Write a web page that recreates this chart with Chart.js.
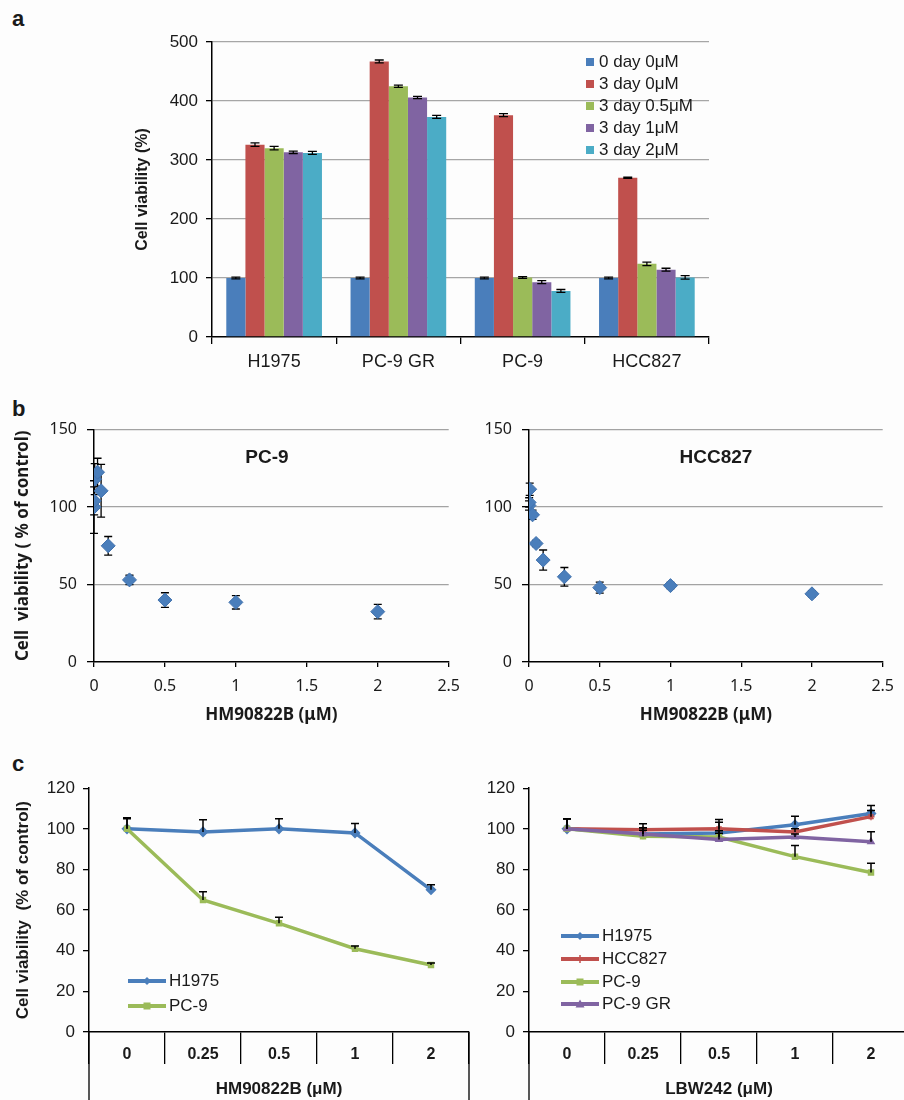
<!DOCTYPE html>
<html lang="en">
<head>
<meta charset="UTF-8">
<title>Cell viability panels</title>
<script src="https://cdn.jsdelivr.net/npm/chart.js"></script>
<style>
    body { margin: 0; background: #fdfdfd; }
    #fig { position: relative; width: 904px; height: 1100px; overflow: hidden; background: #fdfdfd;
           font-family: 'Liberation Sans', Arial, sans-serif; color: #1a1a1a; }
    .box { position: absolute; }
    .letter { position: absolute; font: bold 22px 'Liberation Sans', Arial, sans-serif; line-height: 1; }
    .inset { position: absolute; width: 140px; text-align: center; font: bold 19px 'Liberation Sans', Arial, sans-serif; line-height: 24px; }
    .legA { position: absolute; left: 586px; top: 51px; font-size: 17px; }
    .legA div { height: 22px; display: flex; align-items: center; white-space: nowrap; }
    .legA .sw { display: inline-block; width: 8px; height: 8px; margin-right: 5px; }
    .legC { position: absolute; font-size: 17px; }
    .legC div { display: flex; align-items: center; white-space: nowrap; }
    .legC svg { margin-right: 2px; }
</style>
</head>
<body>
<div id="fig">
    <div class="letter" style="left:12px; top:8px">a</div>
    <div class="letter" style="left:12px; top:398px">b</div>
    <div class="letter" style="left:12px; top:753px">c</div>

    <div class="box" style="left:120px; top:22px"><canvas id="chartA" width="600" height="360"></canvas></div>
    <div class="legA" id="legA"></div>

    <div class="box" style="left:0px; top:410px"><canvas id="chartB1" width="470" height="320"></canvas></div>
    <div class="box" style="left:435px; top:410px"><canvas id="chartB2" width="469" height="320"></canvas></div>
    <div class="inset" style="left:197px; top:445px">PC-9</div>
    <div class="inset" style="left:646px; top:445px">HCC827</div>

    <div class="box" style="left:0px; top:770px"><canvas id="chartC1" width="480" height="330"></canvas></div>
    <div class="box" style="left:440px; top:770px"><canvas id="chartC2" width="480" height="330"></canvas></div>
    <div class="legC" id="legC1" style="left:127px; top:968px"></div>
    <div class="legC" id="legC2" style="left:560px; top:925px"></div>
</div>

<script>
    const FONT = "'Liberation Sans', Arial, sans-serif";
    const FONT_K = "'Noto Sans', 'DejaVu Sans', sans-serif";
    const INK = '#1a1a1a';

    // ---- panel a : 3 day growth ----
    const cellLines = ['H1975', 'PC-9 GR', 'PC-9', 'HCC827'];
    const treatments = ['0 day 0μM', '3 day 0μM', '3 day 0.5μM', '3 day 1μM', '3 day 2μM'];
    const day0_0uM = [100, 100, 100, 100];
    const day3_0uM = [326, 467, 376, 270];
    const day3_05uM = [320, 425, 101, 124];
    const day3_1uM = [313, 406, 93, 114];
    const day3_2uM = [312, 373, 78, 101];
    const err0_0uM = [1.5, 1.5, 1.5, 1.5];
    const err3_0uM = [3, 2.5, 2.5, 1];
    const err3_05uM = [3, 2, 1.5, 3];
    const err3_1uM = [2, 2, 2.5, 2.5];
    const err3_2uM = [2.5, 2.5, 2.5, 3];
    const barColors = ['#4a7ebb', '#c0504d', '#9bbb59', '#8064a2', '#4bacc6'];

    // ---- panel b : HM90822B dose response ----
    const doseB = [0, 0.001, 0.005, 0.025, 0.05, 0.1, 0.25, 0.5, 1, 2];
    const pc9B = [100, 104, 118, 122.5, 110.5, 75, 53, 40, 38.5, 32.5];
    const pc9BErr = [17, 9, 10, 9, 17, 6, 3, 4.7, 4.3, 4.7];
    const hcc827B = [101, 103, 111.5, 95, 76.5, 65.8, 55, 48, 49.3, 44];
    const hcc827BErr = [3, 3, 4, 3, 2, 6.5, 6, 3.5, 2, 2];

    // ---- panel c : viability at 0.25-2 uM ----
    const doseC = ['0', '0.25', '0.5', '1', '2'];
    const hmH1975 = [100, 98.5, 100, 98, 70];
    const hmH1975Err = [5.5, 6, 5, 4.6, 2.5];
    const hmPC9 = [100, 65, 53.5, 41, 33];
    const hmPC9Err = [5, 4, 3, 1.3, 1];
    const lbwH1975 = [100, 97.5, 98, 102, 107.5];
    const lbwH1975Err = [5, 3, 5.3, 4.2, 4];
    const lbwHCC827 = [100, 99.5, 100, 98.5, 106];
    const lbwHCC827Err = [5, 3, 4.6, 1.5, 3];
    const lbwPC9 = [100, 96.3, 96, 86.3, 78.5];
    const lbwPC9Err = [5, 3, 3, 5.5, 4.5];
    const lbwPC9GR = [100, 97.5, 94.8, 96, 93.6];
    const lbwPC9GRErr = [5, 3, 3, 1.5, 5];

    const lineColors = { H1975: '#4a7ebb', HCC827: '#c0504d', 'PC-9': '#9bbb59', 'PC-9 GR': '#8064a2' };
    const markers = { H1975: 'rectRot', HCC827: 'star', 'PC-9': 'rect', 'PC-9 GR': 'triangle' };

    // error bars drawn from each dataset's "errors" array
    function drawErrors(chart, opts) {
        const ctx = chart.ctx;
        const y = chart.scales.y;
        const cap = opts.cap || 4;
        ctx.save();
        ctx.strokeStyle = '#000';
        ctx.lineWidth = opts.lineWidth || 1.2;
        chart.data.datasets.forEach((ds, i) => {
            if (!ds.errors) return;
            chart.getDatasetMeta(i).data.forEach((pt, j) => {
                const raw = ds.data[j];
                const v = typeof raw === 'object' ? raw.y : raw;
                const e = ds.errors[j];
                const yTop = y.getPixelForValue(v + e);
                const yBot = y.getPixelForValue(opts.plusOnly ? v : v - e);
                ctx.beginPath();
                ctx.moveTo(pt.x, yTop); ctx.lineTo(pt.x, yBot);
                ctx.moveTo(pt.x - cap, yTop); ctx.lineTo(pt.x + cap, yTop);
                if (!opts.plusOnly) { ctx.moveTo(pt.x - cap, yBot); ctx.lineTo(pt.x + cap, yBot); }
                ctx.stroke();
            });
        });
        ctx.restore();
    }
    const errorBars = {
        id: 'errorBars',
        beforeDatasetsDraw(chart, args, opts) { if (opts.behind) drawErrors(chart, opts); },
        afterDatasetsDraw(chart, args, opts) { if (!opts.behind) drawErrors(chart, opts); }
    };

    // excel style: outer axis lines run down through the label rows
    const axisDrop = {
        id: 'axisDrop',
        afterDraw(chart) {
            const { ctx, chartArea } = chart;
            ctx.save();
            ctx.strokeStyle = '#000';
            ctx.lineWidth = 1.3;
            ctx.beginPath();
            ctx.moveTo(chartArea.left, chartArea.bottom); ctx.lineTo(chartArea.left, chart.height);
            ctx.moveTo(chartArea.right, chartArea.bottom); ctx.lineTo(chartArea.right, chart.height);
            ctx.stroke();
            ctx.restore();
        }
    };

    // ---------- panel a ----------
    const seriesA = [day0_0uM, day3_0uM, day3_05uM, day3_1uM, day3_2uM];
    const errorsA = [err0_0uM, err3_0uM, err3_05uM, err3_1uM, err3_2uM];

    new Chart(document.getElementById('chartA'), {
        type: 'bar',
        data: {
            labels: cellLines,
            datasets: seriesA.map((d, i) => ({
                label: treatments[i],
                data: d,
                errors: errorsA[i],
                backgroundColor: barColors[i],
                barPercentage: 1,
                categoryPercentage: 0.77
            }))
        },
        options: {
            responsive: false,
            animation: false,
            events: [],
            layout: { padding: { top: 20, right: 11, left: 0, bottom: 0 } },
            plugins: {
                legend: { display: false },
                tooltip: { enabled: false },
                errorBars: { cap: 4.5, lineWidth: 1.3 }
            },
            scales: {
                x: {
                    grid: { display: true, drawOnChartArea: false, offset: true, tickLength: 7, color: '#000', lineWidth: 1.3 },
                    border: { color: '#000', width: 1.5 },
                    ticks: { color: INK, font: { family: FONT, size: 18 }, padding: 7 },
                    afterFit: s => { s.height = 45; }
                },
                y: {
                    min: 0, max: 500,
                    ticks: { stepSize: 100, color: INK, font: { family: FONT, size: 17 }, padding: 8 },
                    grid: {
                        color: c => (c.tick && c.tick.value === 0) ? 'rgba(0,0,0,0)' : '#a6a6a6',
                        tickColor: '#000', tickLength: 6, lineWidth: 1.3
                    },
                    border: { color: '#000', width: 1.5 },
                    title: { display: true, text: 'Cell viability (%)', color: INK,
                             font: { family: FONT, size: 16, weight: 'bold' }, padding: { top: 13, bottom: 0 } },
                    afterFit: s => { s.width = 92; }
                }
            }
        },
        plugins: [errorBars]
    });

    document.getElementById('legA').innerHTML = treatments.map((t, i) =>
        `<div><span class="sw" style="background:${barColors[i]}"></span>${t}</div>`).join('');

    // ---------- panel b ----------
    function doseChart(id, doses, vals, errs, showTitle) {
        return new Chart(document.getElementById(id), {
            type: 'scatter',
            data: {
                datasets: [{
                    data: doses.map((x, i) => ({ x: x, y: vals[i] })),
                    errors: errs,
                    pointStyle: 'rectRot',
                    pointRadius: 7,
                    pointHoverRadius: 7,
                    backgroundColor: '#4a7ebb',
                    borderColor: '#4272ad',
                    borderWidth: 1
                }]
            },
            options: {
                responsive: false,
                animation: false,
                events: [],
                layout: { padding: { top: 19, right: 12, left: 0, bottom: 0 } },
                plugins: {
                    legend: { display: false },
                    tooltip: { enabled: false },
                    errorBars: { behind: true, cap: 4, lineWidth: 1.3 }
                },
                scales: {
                    x: {
                        type: 'linear', min: 0, max: 2.5,
                        ticks: { stepSize: 0.5, color: INK, font: { family: FONT_K, size: 16 }, padding: 10,
                                 callback: v => String(Math.round(v * 10) / 10) },
                        grid: { drawOnChartArea: false, tickLength: 5, tickColor: '#000', lineWidth: 1.3 },
                        border: { color: '#000', width: 1.5 },
                        title: { display: true, text: 'HM90822B (μM)', color: INK,
                                 font: { family: FONT_K, size: 17, weight: 'bold' }, padding: { top: 0, bottom: 5 } },
                        afterFit: s => { s.height = 68; }
                    },
                    y: {
                        min: 0, max: 150,
                        ticks: { stepSize: 50, color: INK, font: { family: FONT_K, size: 16 }, padding: 10 },
                        grid: {
                            color: c => (c.tick && c.tick.value === 0) ? 'rgba(0,0,0,0)' : '#a3a3a3',
                            tickColor: '#000', tickLength: 7, lineWidth: 1.3
                        },
                        border: { color: '#000', width: 1.5 },
                        title: { display: showTitle, text: 'Cell  viability ( % of control)', color: INK,
                                 font: { family: FONT_K, size: 17, weight: 'bold' }, padding: { top: 13, bottom: 0 } },
                        afterFit: s => { s.width = 94; }
                    }
                }
            },
            plugins: [errorBars]
        });
    }
    doseChart('chartB1', doseB, pc9B, pc9BErr, true);
    doseChart('chartB2', doseB, hcc827B, hcc827BErr, false);

    // ---------- panel c ----------
    function lineChart(id, axisTitle, names, vals, errs, showTitle) {
        return new Chart(document.getElementById(id), {
            type: 'line',
            data: {
                labels: doseC,
                datasets: names.map((n, i) => ({
                    label: n,
                    data: vals[i],
                    errors: errs[i],
                    order: names.length - i,
                    borderColor: lineColors[n],
                    backgroundColor: lineColors[n],
                    borderWidth: 3.5,
                    tension: 0,
                    pointStyle: markers[n],
                    pointRadius: n === 'H1975' ? 4.5 : 3.5,
                    pointBorderWidth: 1.5
                }))
            },
            options: {
                responsive: false,
                animation: false,
                events: [],
                layout: { padding: { top: 16, right: 11, left: 0, bottom: 0 } },
                plugins: {
                    legend: { display: false },
                    tooltip: { enabled: false },
                    errorBars: { plusOnly: true, cap: 4, lineWidth: 1.5 }
                },
                scales: {
                    x: {
                        offset: true,
                        grid: { display: true, offset: true, drawOnChartArea: false, tickLength: 32, tickColor: '#000', lineWidth: 1.3 },
                        border: { color: '#000', width: 1.5 },
                        ticks: { color: INK, font: { family: FONT, size: 16, weight: 'bold' }, padding: -19 },
                        title: { display: true, text: axisTitle, color: INK,
                                 font: { family: FONT, size: 17, weight: 'bold' }, padding: { top: 0, bottom: 0 } },
                        afterFit: s => { s.height = 68; }
                    },
                    y: {
                        min: 0, max: 120,
                        ticks: { stepSize: 20, color: INK, font: { family: FONT, size: 17 }, padding: 8 },
                        grid: { drawOnChartArea: false, tickColor: '#000', tickLength: 6, lineWidth: 1.3 },
                        border: { color: '#000', width: 1.5 },
                        title: { display: showTitle, text: 'Cell viability  (% of control)', color: INK,
                                 font: { family: FONT, size: 17, weight: 'bold' }, padding: { top: 13, bottom: 0 } },
                        afterFit: s => { s.width = 89; }
                    }
                }
            },
            plugins: [errorBars, axisDrop]
        });
    }
    const namesC1 = ['H1975', 'PC-9'];
    const namesC2 = ['H1975', 'HCC827', 'PC-9', 'PC-9 GR'];
    lineChart('chartC1', 'HM90822B (μM)', namesC1, [hmH1975, hmPC9], [hmH1975Err, hmPC9Err], true);
    lineChart('chartC2', 'LBW242 (μM)', namesC2,
        [lbwH1975, lbwHCC827, lbwPC9, lbwPC9GR],
        [lbwH1975Err, lbwHCC827Err, lbwPC9Err, lbwPC9GRErr], false);

    // legends for panel c
    function markerSvg(n) {
        const c = lineColors[n];
        let m = '';
        if (markers[n] === 'rectRot') m = `<polygon points="20,2 24,6 20,10 16,6" fill="${c}"/>`;
        else if (markers[n] === 'rect') m = `<rect x="16.5" y="2.5" width="7" height="7" fill="${c}"/>`;
        else if (markers[n] === 'triangle') m = `<polygon points="20,1.5 24.5,9.5 15.5,9.5" fill="${c}"/>`;
        else m = `<path d="M16,6 H24 M20,2 V10" stroke="${c}" stroke-width="1.5"/>`;
        return `<svg width="40" height="12"><line x1="1" y1="6" x2="39" y2="6" stroke="${c}" stroke-width="4"/>${m}</svg>`;
    }
    document.getElementById('legC1').innerHTML = namesC1.map(n =>
        `<div style="height:25px">${markerSvg(n)}${n}</div>`).join('');
    document.getElementById('legC2').innerHTML = namesC2.map(n =>
        `<div style="height:22.7px">${markerSvg(n)}${n}</div>`).join('');
</script>
</body>
</html>
